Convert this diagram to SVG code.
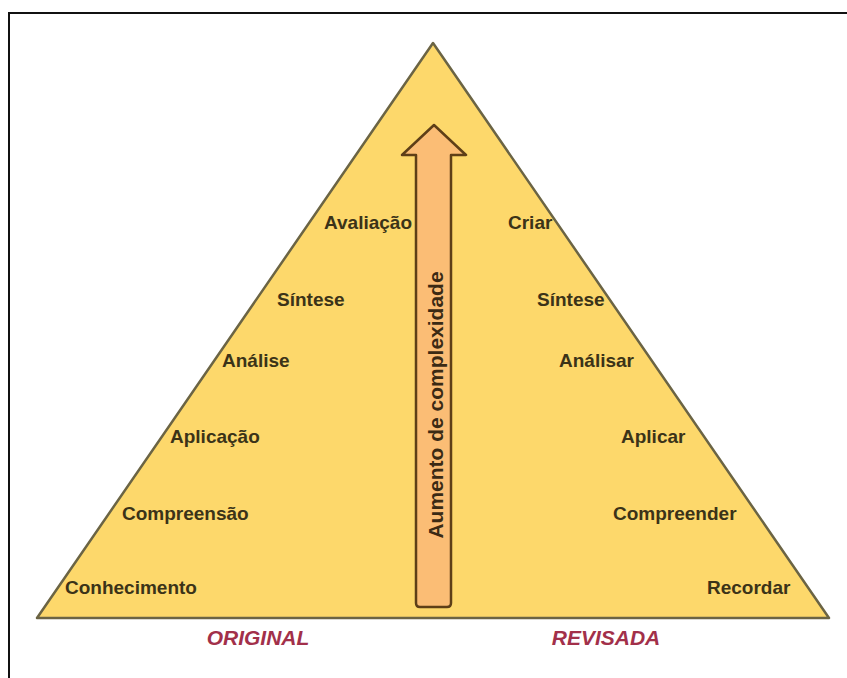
<svg xmlns="http://www.w3.org/2000/svg" width="847" height="678" viewBox="0 0 847 678">
<style>
.lbl{font-family:"Liberation Sans",Arial,sans-serif;font-weight:bold;font-size:19px;fill:#3b3318}
.cap{font-family:"Liberation Sans",Arial,sans-serif;font-weight:bold;font-style:italic;font-size:21px;fill:#a2304a}
.vt{font-family:"Liberation Sans",Arial,sans-serif;font-weight:bold;font-size:21px;fill:#3b2a14}
</style>
<rect x="0" y="0" width="847" height="678" fill="#ffffff"/>
<rect x="9" y="13" width="860" height="700" fill="none" stroke="#111111" stroke-width="2"/>
<g id="pyramid">
<polygon points="433,43 829,618 37,618" fill="#fdd86b" stroke="#6b6444" stroke-width="2.5" stroke-linejoin="round"/>
</g>
<g id="connectors">
<path d="M434,125 L466,155 L451,155 L451,603 Q451,607 447,607 L420,607 Q416,607 416,603 L416,155 L402,155 Z" fill="#fbbd75" stroke="#5e3f17" stroke-width="2.5" stroke-linejoin="round"/>
</g>
<g id="arrow-label">
<text class="vt" transform="translate(443,405) rotate(-90)" text-anchor="middle">Aumento de complexidade</text>
</g>
<g id="original">
<text class="lbl" x="412" y="229" text-anchor="end">Avaliação</text>
<text class="lbl" x="277" y="306">Síntese</text>
<text class="lbl" x="222" y="367">Análise</text>
<text class="lbl" x="170" y="443">Aplicação</text>
<text class="lbl" x="122" y="520">Compreensão</text>
<text class="lbl" x="65" y="594">Conhecimento</text>
</g>
<g id="revisada">
<text class="lbl" x="508" y="229">Criar</text>
<text class="lbl" x="537" y="306">Síntese</text>
<text class="lbl" x="559" y="367">Análisar</text>
<text class="lbl" x="621" y="443">Aplicar</text>
<text class="lbl" x="613" y="520">Compreender</text>
<text class="lbl" x="707" y="594">Recordar</text>
</g>
<g id="captions">
<text class="cap" x="258" y="645" text-anchor="middle">ORIGINAL</text>
<text class="cap" x="606" y="645" text-anchor="middle">REVISADA</text>
</g>
</svg>
